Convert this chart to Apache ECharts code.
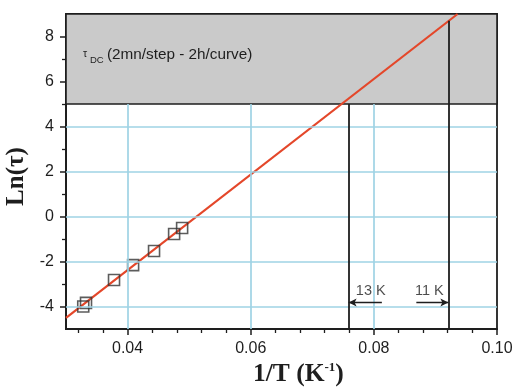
<!DOCTYPE html>
<html>
<head>
<meta charset="utf-8">
<script src="https://cdn.jsdelivr.net/npm/echarts@6/dist/echarts.min.js"></script>
<style>html,body{margin:0;padding:0;background:#fff}#c{width:518px;height:389px}</style>
</head>
<body>
<div id="c"></div>
<script>
// ---- data ----
const invT = [0.0328, 0.03325, 0.0378, 0.0409, 0.0443, 0.04756, 0.04886];
const lnTau = [-4.0, -3.84, -2.82, -2.16, -1.53, -0.78, -0.51];
const fitX = [0.03, 0.0936];
const fitY = [-4.51, 9.0];
const xTickVals = [0.04, 0.06, 0.08, 0.10];
const xMinorVals = [0.032, 0.036, 0.044, 0.048, 0.052, 0.056, 0.064, 0.068, 0.072, 0.076, 0.084, 0.088, 0.092, 0.096];
const yTickVals = [-4, -2, 0, 2, 4, 6, 8];
const yMinorVals = [-3, -1, 1, 3, 5, 7];
const gridXVals = [0.04, 0.06, 0.08];
const gridYVals = [-4, -2, 0, 2, 4];
const markerX = [0.0759, 0.0921];
const markerTop = [5, 8.7];
const arrowFrom = [0.0813, 0.0869];
const arrowY = -3.82;
const tempLabels = ['13 K', '11 K'];
const tempLabelX = [0.0795, 0.0890];
const tempLabelY = -3.3;
const regionY = [5, 9];

const X0 = 0.03, X1 = 0.10, Y0 = -5, Y1 = 9;
const ink = '#1e1e1e';
const sans = 'Liberation Sans, Arial, sans-serif';
const serif = 'Liberation Serif, Times New Roman, serif';

const chart = echarts.init(document.getElementById('c'));

const blueLines = [];
gridXVals.forEach(v => blueLines.push([{coord: [v, Y0]}, {coord: [v, regionY[0]]}]));
gridYVals.forEach(v => blueLines.push([{coord: [X0, v]}, {coord: [X1, v]}]));

const blackLines = markerX.map((v, i) => [{coord: [v, Y0]}, {coord: [v, markerTop[i]]}]);
const arrows = arrowFrom.map((v, i) => [{coord: [v, arrowY]}, {coord: [markerX[i], arrowY]}]);

const tickFont = {fontFamily: sans, fontSize: 16, color: ink};

chart.setOption({
  animation: false,
  grid: [
    {left: 66, top: 14, right: 21, bottom: 60, containLabel: false, outerBoundsMode: 'none', show: true, borderColor: ink, borderWidth: 1.8, backgroundColor: 'transparent'},
    {left: 66, top: 14, right: 21, bottom: 60, containLabel: false, outerBoundsMode: 'none', show: false}
  ],
  xAxis: [
    {type: 'value', gridIndex: 0, min: X0, max: X1,
     axisLine: {show: true, onZero: false, lineStyle: {color: ink, width: 1.8}},
     axisTick: {show: true, customValues: xTickVals, length: 6, lineStyle: {color: ink, width: 1.5}},
     axisLabel: Object.assign({customValues: xTickVals, margin: 12, formatter: v => v.toFixed(2)}, tickFont),
     splitLine: {show: false}},
    {type: 'value', gridIndex: 1, min: X0, max: X1,
     axisLine: {show: false, onZero: false},
     axisTick: {show: true, customValues: xMinorVals, length: 4, lineStyle: {color: ink, width: 1.3}},
     axisLabel: {show: false}, splitLine: {show: false}}
  ],
  yAxis: [
    {type: 'value', gridIndex: 0, min: Y0, max: Y1,
     name: 'Ln(τ)', nameLocation: 'middle', nameGap: 29, nameRotate: 90,
     nameTextStyle: {fontFamily: serif, fontWeight: 'bold', fontSize: 25, color: ink, padding: [0, 10, 0, 0]},
     axisLine: {show: true, onZero: false, lineStyle: {color: ink, width: 1.8}},
     axisTick: {show: true, customValues: yTickVals, length: 6, lineStyle: {color: ink, width: 1.5}},
     axisLabel: Object.assign({customValues: yTickVals, margin: 12}, tickFont),
     splitLine: {show: false}},
    {type: 'value', gridIndex: 1, min: Y0, max: Y1,
     axisLine: {show: false, onZero: false},
     axisTick: {show: true, customValues: yMinorVals, length: 4, lineStyle: {color: ink, width: 1.3}},
     axisLabel: {show: false}, splitLine: {show: false}}
  ],
  graphic: [
    {type: 'text', z: 100, left: 83, top: 49, style: {text: 'τ', fontFamily: sans, fontSize: 10.5, fill: ink}},
    {type: 'text', z: 100, left: 90, top: 55.5, style: {text: 'DC', fontFamily: sans, fontSize: 9.5, fill: ink}},
    {type: 'text', z: 100, left: 107, top: 47, style: {text: '(2mn/step - 2h/curve)', fontFamily: sans, fontSize: 15.3, fill: ink}},
    {type: 'text', z: 100, left: 253, top: 361, style: {
      text: '{a|1/T (K}{s|-1}{a|)}',
      rich: {
        a: {fontFamily: serif, fontWeight: 'bold', fontSize: 25.5, fill: ink, lineHeight: 27},
        s: {fontFamily: serif, fontWeight: 'bold', fontSize: 13, fill: ink, verticalAlign: 'top', lineHeight: 27}
      }}}
  ],
  series: [
    {type: 'line', xAxisIndex: 0, yAxisIndex: 0, data: [], z: 1, silent: true,
     markArea: {silent: true, itemStyle: {color: '#cacaca', borderColor: ink, borderWidth: 1.6},
       data: [[{coord: [X0, regionY[0]]}, {coord: [X1, regionY[1]]}]]},
     markLine: {silent: true, symbol: 'none', animation: false, label: {show: false},
       lineStyle: {color: '#9fd3e4', width: 1.7, type: 'solid'}, data: blueLines}},
    {type: 'line', xAxisIndex: 0, yAxisIndex: 0, data: [], z: 2, silent: true,
     markLine: {silent: true, symbol: 'none', label: {show: false},
       lineStyle: {color: ink, width: 1.8, type: 'solid'}, data: blackLines}},
    {type: 'line', xAxisIndex: 0, yAxisIndex: 0, data: [], z: 2, silent: true,
     markLine: {silent: true, symbol: ['none', 'arrow'], symbolSize: [6, 8], label: {show: false},
       lineStyle: {color: ink, width: 1.4, type: 'solid'}, data: arrows}},
    {type: 'line', xAxisIndex: 0, yAxisIndex: 0, z: 3, showSymbol: false, silent: true,
     lineStyle: {color: '#e4472a', width: 2.2},
     data: fitX.map((v, i) => [v, fitY[i]])},
    {type: 'scatter', xAxisIndex: 0, yAxisIndex: 0, z: 4, symbol: 'rect', symbolSize: 11, silent: true,
     itemStyle: {color: 'rgba(0,0,0,0)', borderColor: '#333', borderWidth: 1.6},
     data: invT.map((v, i) => [v, lnTau[i]])},
    {type: 'scatter', xAxisIndex: 0, yAxisIndex: 0, z: 4, symbolSize: 0, silent: true,
     label: {show: true, position: 'inside', formatter: p => p.name, fontFamily: sans, fontSize: 14.5, color: ink},
     data: tempLabels.map((t, i) => ({name: t, value: [tempLabelX[i], tempLabelY]}))}
  ]
});
</script>
</body>
</html>
